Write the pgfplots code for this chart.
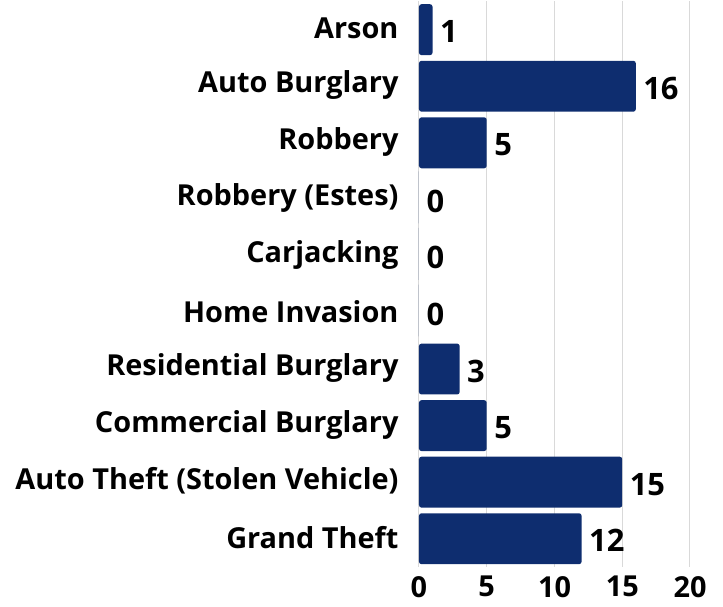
\documentclass[border=0pt]{standalone}
\usepackage{pgfplots}
\pgfplotsset{compat=1.18}
\usepackage{fontspec}
\setmainfont{Open Sans}
\definecolor{barblue}{HTML}{0E2D6F}
\definecolor{gridgray}{HTML}{D9D9D9}
\begin{document}
\begin{tikzpicture}
\begin{axis}[
	scale only axis,
	width=271bp,
	height=565.6bp,
	xbar,
	bar width=0.9,
	y dir=reverse,
	xmin=0, xmax=20,
	ymin=-0.5, ymax=9.5,
	xtick={0,5,10,15,20},
	ytick={0,...,9},
	yticklabels={Arson, Auto Burglary, Robbery, Robbery (Estes), Carjacking, Home Invasion, Residential Burglary, Commercial Burglary, Auto Theft (Stolen Vehicle), Grand Theft},
	xmajorgrids,
	grid style={gridgray, line width=1bp},
	axis line style={draw=none},
	major tick length=0pt,
	/pgf/number format/assume math mode=true,
	ticklabel style={font=\fontsize{29}{32}\selectfont\bfseries},
	yticklabel style={xshift=-17bp, yshift=1bp},
	xticklabel style={yshift=-8bp, inner sep=1bp},
	nodes near coords,
	nodes near coords style={font=\fontsize{31}{32}\selectfont\bfseries, black, anchor=west, xshift=4bp, yshift=-2bp},
	point meta=explicit symbolic,
]
\addplot[fill=barblue, draw=none, rounded corners=2.5bp] coordinates {
	(1,0)  [1]
	(16,1) [16]
	(5,2)  [5]
	(0,3)  [0]
	(0,4)  [0]
	(0,5)  [0]
	(3,6)  [3]
	(5,7)  [5]
	(15,8) [15]
	(12,9) [12]
};
\end{axis}
\path[use as bounding box] (-419bp,-40bp) rectangle (304bp,567bp);
\end{tikzpicture}
\end{document}
